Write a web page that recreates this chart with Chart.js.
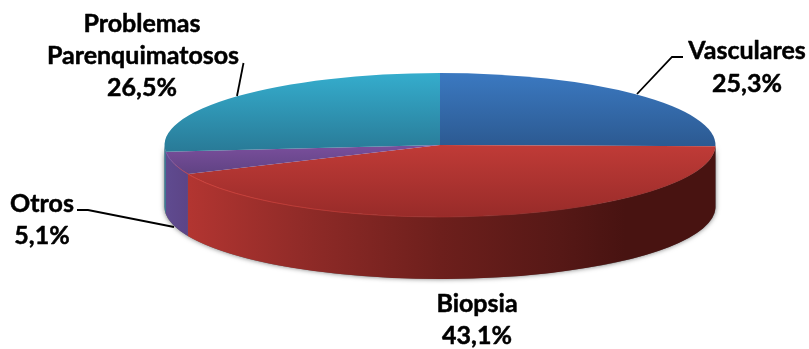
<!DOCTYPE html>
<html>
<head>
<meta charset="utf-8">
<script src="https://cdn.jsdelivr.net/npm/chart.js@4/dist/chart.umd.min.js"></script>
<style>
html, body { margin: 0; padding: 0; background: #fff; }
canvas { display: block; }
</style>
</head>
<body>
<canvas id="pie" width="809" height="349"></canvas>
<script>
// values
const categories = ['Vasculares', 'Biopsia', 'Otros', 'Problemas Parenquimatosos'];
const values = [25.3, 43.1, 5.1, 26.5];
const valueLabels = ['25,3%', '43,1%', '5,1%', '26,5%'];

// ellipse of the top face, on the page
const cx = 440, cy = 145, rx = 275.5, ry = 72, depth = 62;

// top face gradient per slice: [colour at y0, colour at y1, y0, y1]
const topFill = [
	['#3b79c1', '#2c5a92', 73, 145],
	['#c03b37', '#982b29', 145, 217],
	['#7a4f9c', '#5c4180', 145, 178],
	['#35adcd', '#297b98', 73, 150]
];
// side wall gradient per slice: [x, colour] stops
const wallFill = [
	[[700, '#2a4f80'], [716, '#2a4f80']],
	[[189, '#b23531'], [300, '#912b28'], [440, '#6d1f1c'], [560, '#561816'], [625, '#481311'], [716, '#481311']],
	[[165, '#5f4b90'], [189, '#5c4486']],
	[[165, '#2f7f9f'], [170, '#2f7f9f']]
];

function sliceFill(c){
	const area = c.chart.chartArea;
	if(!area) return '#888';
	let R = Math.min(area.width, area.height) / 2;
	let my = (area.top + area.bottom) / 2;
	let f = topFill[c.dataIndex];
	// gradient lives in chart space, the squash is applied when drawing
	let g = c.chart.ctx.createLinearGradient(0, my + (f[2] - cy) * R / ry, 0, my + (f[3] - cy) * R / ry);
	g.addColorStop(0, f[0]);
	g.addColorStop(1, f[1]);
	return g;
}

function wallPath(ctx, s, e){
	ctx.beginPath();
	ctx.ellipse(cx, cy, rx, ry, 0, s, e);
	ctx.ellipse(cx, cy + depth, rx, ry, 0, e, s, true);
	ctx.closePath();
}

function label(ctx, text, x, y){
	ctx.fillText(text, x, y);
	ctx.strokeText(text, x, y);
}

const squashPie = {
	id: 'squashPie',
	beforeDatasetsDraw(chart){
		let ctx = chart.ctx;
		let arcs = chart.getDatasetMeta(0).data;

		// soft shadow behind the body
		ctx.save();
		ctx.shadowColor = 'rgba(0,0,0,0.55)';
		ctx.shadowBlur = 5;
		ctx.fillStyle = '#666';
		wallPath(ctx, 0, Math.PI);
		ctx.fill();
		ctx.restore();

		// side walls, only the front half shows
		arcs.forEach(function(arc, i){
			let s = Math.max(arc.startAngle, 0);
			let e = Math.min(arc.endAngle, Math.PI);
			if(e <= s) return;
			let stops = wallFill[i];
			let x0 = stops[0][0], x1 = stops[stops.length - 1][0];
			let g = ctx.createLinearGradient(x0, 0, x1, 0);
			stops.forEach(function(st){ g.addColorStop((st[0] - x0) / (x1 - x0), st[1]); });
			ctx.fillStyle = g;
			wallPath(ctx, s, e);
			ctx.fill();
		});

		// top face: the library's arcs, squashed into the ellipse
		let a = arcs[0];
		ctx.save();
		ctx.translate(cx, cy);
		ctx.scale(rx / a.outerRadius, ry / a.outerRadius);
		ctx.translate(-a.x, -a.y);
	},
	afterDatasetsDraw(chart){
		let ctx = chart.ctx;
		ctx.restore();
		let arcs = chart.getDatasetMeta(0).data;

		// light rim on the front edge of the red and purple slices
		let g = ctx.createLinearGradient(170, 0, 700, 0);
		g.addColorStop(0, '#7a5aa8');
		g.addColorStop(0.04, '#cf423c');
		g.addColorStop(0.35, '#b23531');
		g.addColorStop(0.6, 'rgba(150,45,42,0.6)');
		g.addColorStop(1, 'rgba(120,40,38,0.2)');
		ctx.strokeStyle = g;
		ctx.lineWidth = 1;
		ctx.beginPath();
		ctx.ellipse(cx, cy, rx, ry, 0, Math.max(arcs[1].startAngle, 0), arcs[2].endAngle);
		ctx.stroke();

		// leader lines
		ctx.strokeStyle = '#000';
		ctx.lineWidth = 1.8;
		[[[637, 94], [672, 57], [683, 57]],
		 [[237, 96], [243.5, 63]],
		 [[77, 210], [88, 210], [174, 227]]].forEach(function(line){
			ctx.beginPath();
			line.forEach(function(p, i){ i ? ctx.lineTo(p[0], p[1]) : ctx.moveTo(p[0], p[1]); });
			ctx.stroke();
		});

		// labels
		ctx.fillStyle = '#000';
		ctx.strokeStyle = '#000';
		ctx.lineWidth = 0.5;
		ctx.lineJoin = 'round';
		ctx.font = '700 25px Lato';
		ctx.textAlign = 'center';
		ctx.textBaseline = 'alphabetic';
		label(ctx, categories[0], 747, 59);
		label(ctx, valueLabels[0], 747, 92);
		label(ctx, categories[1], 477, 312);
		label(ctx, valueLabels[1], 477, 344);
		label(ctx, categories[2], 42, 212);
		label(ctx, valueLabels[2], 42, 244);
		let parts = categories[3].split(' ');
		label(ctx, parts[0], 142, 32);
		label(ctx, parts[1], 143, 64);
		label(ctx, valueLabels[3], 142, 96);
	}
};

new Chart(document.getElementById('pie'), {
	type: 'pie',
	data: {
		labels: categories,
		datasets: [{
			data: values,
			backgroundColor: sliceFill,
			borderWidth: 0
		}]
	},
	options: {
		responsive: false,
		animation: false,
		plugins: { legend: { display: false }, tooltip: { enabled: false } }
	},
	plugins: [squashPie]
});
</script>
</body>
</html>
